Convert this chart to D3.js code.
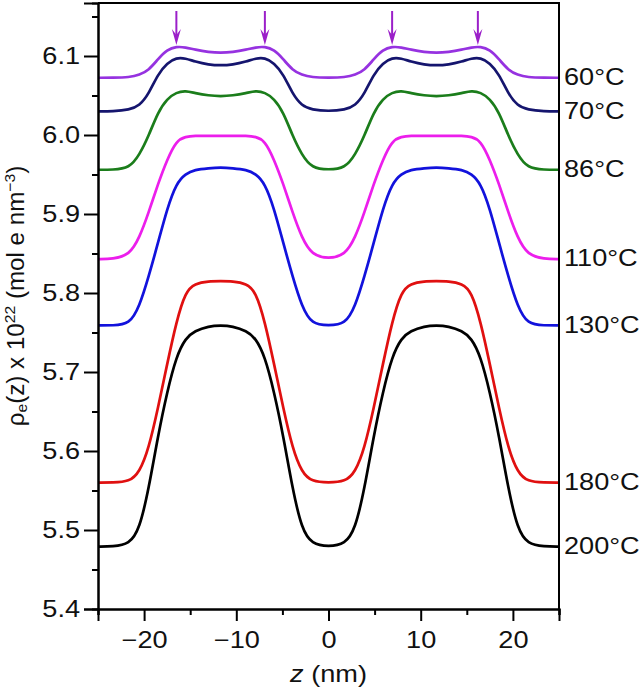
<!DOCTYPE html>
<html>
<head>
<meta charset="utf-8">
<script src="https://cdn.jsdelivr.net/npm/d3@7/dist/d3.min.js"></script>
<style>
    html, body { margin: 0; padding: 0; background: #fff; }
    svg text { font-family: Arial, "Liberation Sans", sans-serif; fill: #111; }
</style>
</head>
<body>
<svg id="chart" width="640" height="687"></svg>
<script>
// z positions (nm)
var z_values = [-25, -23.4, -21.6, -20.5, -19.5, -18.5, -17.5, -16.5, -15.5, -14.5, -13, -11.7,
    -10.4, -8.9, -7.9, -6.9, -5.9, -4.9, -3.9, -2.9, -1.8, 0,
    1.8, 2.9, 3.9, 4.9, 5.9, 6.9, 7.9, 8.9, 10.4, 11.7,
    13, 14.5, 15.5, 16.5, 17.5, 18.5, 19.5, 20.5, 21.6, 23.4, 25];

var rho_60 = [6.0725, 6.0725, 6.073, 6.076, 6.082, 6.096, 6.108, 6.112, 6.111, 6.108, 6.105, 6.104,
    6.105, 6.108, 6.111, 6.112, 6.108, 6.096, 6.082, 6.076, 6.073, 6.0725,
    6.073, 6.076, 6.082, 6.096, 6.108, 6.112, 6.111, 6.108, 6.105, 6.104,
    6.105, 6.108, 6.111, 6.112, 6.108, 6.096, 6.082, 6.076, 6.073, 6.0725, 6.0725];
var rho_70 = [6.030, 6.030, 6.032, 6.037, 6.052, 6.077, 6.091, 6.098, 6.097, 6.093, 6.089, 6.088,
    6.089, 6.093, 6.097, 6.098, 6.091, 6.077, 6.052, 6.037, 6.032, 6.030,
    6.032, 6.037, 6.052, 6.077, 6.091, 6.098, 6.097, 6.093, 6.089, 6.088,
    6.089, 6.093, 6.097, 6.098, 6.091, 6.077, 6.052, 6.037, 6.032, 6.030, 6.030];
var rho_86 = [5.956, 5.956, 5.958, 5.975, 5.999, 6.029, 6.046, 6.054, 6.056, 6.053, 6.050, 6.049,
    6.050, 6.053, 6.056, 6.054, 6.046, 6.029, 5.999, 5.975, 5.958, 5.956,
    5.958, 5.975, 5.999, 6.029, 6.046, 6.054, 6.056, 6.053, 6.050, 6.049,
    6.050, 6.053, 6.056, 6.054, 6.046, 6.029, 5.999, 5.975, 5.958, 5.956, 5.956];
var rho_110 = [5.843, 5.843, 5.848, 5.870, 5.902, 5.938, 5.969, 5.993, 5.998, 5.999, 5.999, 5.999,
    5.999, 5.999, 5.998, 5.993, 5.969, 5.938, 5.902, 5.870, 5.848, 5.843,
    5.848, 5.870, 5.902, 5.938, 5.969, 5.993, 5.998, 5.999, 5.999, 5.999,
    5.999, 5.999, 5.998, 5.993, 5.969, 5.938, 5.902, 5.870, 5.848, 5.843, 5.843];
var rho_130 = [5.759, 5.759, 5.760, 5.783, 5.821, 5.863, 5.907, 5.939, 5.951, 5.956, 5.958, 5.959,
    5.958, 5.956, 5.951, 5.939, 5.907, 5.863, 5.821, 5.783, 5.760, 5.759,
    5.760, 5.783, 5.821, 5.863, 5.907, 5.939, 5.951, 5.956, 5.958, 5.959,
    5.958, 5.956, 5.951, 5.939, 5.907, 5.863, 5.821, 5.783, 5.760, 5.759, 5.759];
var rho_180 = [5.560, 5.560, 5.561, 5.573, 5.603, 5.654, 5.710, 5.764, 5.802, 5.812, 5.815, 5.815,
    5.815, 5.812, 5.802, 5.764, 5.710, 5.654, 5.603, 5.573, 5.561, 5.560,
    5.561, 5.573, 5.603, 5.654, 5.710, 5.764, 5.802, 5.812, 5.815, 5.815,
    5.815, 5.812, 5.802, 5.764, 5.710, 5.654, 5.603, 5.573, 5.561, 5.560, 5.560];
var rho_200 = [5.479, 5.479, 5.482, 5.501, 5.552, 5.619, 5.675, 5.720, 5.743, 5.752, 5.758, 5.759,
    5.758, 5.752, 5.743, 5.720, 5.675, 5.619, 5.552, 5.501, 5.482, 5.479,
    5.482, 5.501, 5.552, 5.619, 5.675, 5.720, 5.743, 5.752, 5.758, 5.759,
    5.758, 5.752, 5.743, 5.720, 5.675, 5.619, 5.552, 5.501, 5.482, 5.479, 5.479];

var temp_labels = ["60°C", "70°C", "86°C", "110°C", "130°C", "180°C", "200°C"];
var series_colors = ["#9632e0", "#15156e", "#1b7d1b", "#ec1eec", "#1212dc", "#e01010", "#000000"];
var all_series = [rho_60, rho_70, rho_86, rho_110, rho_130, rho_180, rho_200];

// arrows over the peaks of the 60°C curve
var arrow_z = [-16.5, -6.9, 6.9, 16.2];
var arrow_top = 6.157, arrow_tip = 6.114;

var x_ticks_major = [-20, -10, 0, 10, 20];
var x_ticks_minor = [-25, -15, -5, 5, 15, 25];
var y_ticks_major = [5.4, 5.5, 5.6, 5.7, 5.8, 5.9, 6.0, 6.1];
var y_ticks_minor = [5.45, 5.55, 5.65, 5.75, 5.85, 5.95, 6.05, 6.15];

(function () {
    /****** setup ******/
    var svg = d3.select("#chart"),
        plot = {left: 98, right: 559, top: 3, bottom: 609};

    var x = d3.scaleLinear().domain([-25, 25]).range([plot.left, plot.right]);
    var y = d3.scaleLinear().domain([5.4, 5.4 + (plot.bottom - plot.top) / 790]).range([plot.bottom, plot.top]);

    var font_size = 23,
        sx = 1.18; // the figure's lettering is a little wider than Arial

    // curves
    var line = d3.line()
        .x(function (d) { return x(d[0]); })
        .y(function (d) { return y(d[1]); })
        .curve(d3.curveBasis);

    all_series.forEach(function (values, i) {
        var pts = z_values.map(function (z, j) { return [z, values[j]]; });
        svg.append("path")
            .attr("d", line(pts))
            .attr("fill", "none")
            .attr("stroke", series_colors[i])
            .attr("stroke-width", 2.7)
            .attr("stroke-linejoin", "round");

        svg.append("text")
            .attr("transform", "translate(" + (plot.right + 5) + "," + (y(values[values.length - 1]) - 1) + ") scale(" + sx + ",1)")
            .attr("dy", "0.36em")
            .style("font-size", font_size + "px")
            .text(temp_labels[i]);
    });

    // arrows
    var arrow_color = "#9b1fc9";
    arrow_z.forEach(function (z) {
        var ax = x(z), y0 = y(arrow_top), y1 = y(arrow_tip);
        svg.append("line")
            .attr("x1", ax).attr("x2", ax)
            .attr("y1", y0).attr("y2", y1 - 8)
            .attr("stroke", arrow_color).attr("stroke-width", 2);
        svg.append("path")
            .attr("d", "M" + (ax - 4.5) + "," + (y1 - 16) + "L" + ax + "," + y1 + "L" + (ax + 4.5) + "," + (y1 - 16) + "L" + ax + "," + (y1 - 10) + "Z")
            .attr("fill", arrow_color);
    });

    // frame (top and right)
    svg.append("path")
        .attr("d", "M" + plot.left + "," + plot.top + "H" + plot.right + "V" + plot.bottom)
        .attr("fill", "none").attr("stroke", "#000").attr("stroke-width", 2);

    // x axis
    var x_axis = svg.append("g").attr("transform", "translate(0," + plot.bottom + ")");
    x_axis.call(d3.axisBottom(x).tickValues(x_ticks_minor).tickSize(6).tickFormat(""));
    x_axis.append("g").call(d3.axisBottom(x).tickValues(x_ticks_major).tickSize(12)
        .tickFormat(function (d) { return d < 0 ? "\u2212" + Math.abs(d) : d; }));

    // y axis
    var y_axis = svg.append("g").attr("transform", "translate(" + plot.left + ",0)");
    y_axis.call(d3.axisLeft(y).tickValues(y_ticks_minor).tickSize(6).tickFormat(""));
    y_axis.append("g").call(d3.axisLeft(y).tickValues(y_ticks_major).tickSize(14)
        .tickFormat(d3.format(".1f")));

    svg.selectAll(".domain").attr("stroke", "#000").attr("stroke-width", 2);
    svg.selectAll(".tick line").attr("stroke", "#000").attr("stroke-width", 2);
    svg.selectAll(".tick text").style("font-size", font_size + "px")
        .style("font-family", "Arial, 'Liberation Sans', sans-serif").attr("fill", "#111")
        .attr("transform", "scale(" + sx + ",1)");
    x_axis.selectAll(".tick text").attr("y", 39).attr("dy", 0);
    y_axis.selectAll(".tick text").attr("x", -18 / sx);

    // axis titles
    var x_title = svg.append("text")
        .attr("transform", "translate(" + ((plot.left + plot.right) / 2) + ",682) scale(" + sx + ",1)")
        .attr("text-anchor", "middle")
        .style("font-size", font_size + "px");
    x_title.append("tspan").style("font-style", "italic").text("z");
    x_title.append("tspan").text(" (nm)");

    var y_title = svg.append("text")
        .attr("transform", "translate(24,296) rotate(-90) scale(1.05,1)")
        .attr("text-anchor", "middle")
        .style("font-size", "23px");
    y_title.append("tspan").text("\u03c1");
    y_title.append("tspan").style("font-size", "15px").attr("dy", 3).text("e");
    y_title.append("tspan").attr("dy", -3).text("(z) x 10");
    y_title.append("tspan").style("font-size", "15px").attr("dy", -9).text("22");
    y_title.append("tspan").attr("dy", 9).text(" (mol e nm");
    y_title.append("tspan").style("font-size", "15px").attr("dy", -9).text("\u22123");
    y_title.append("tspan").attr("dy", 9).text(")");
})();
</script>
</body>
</html>
